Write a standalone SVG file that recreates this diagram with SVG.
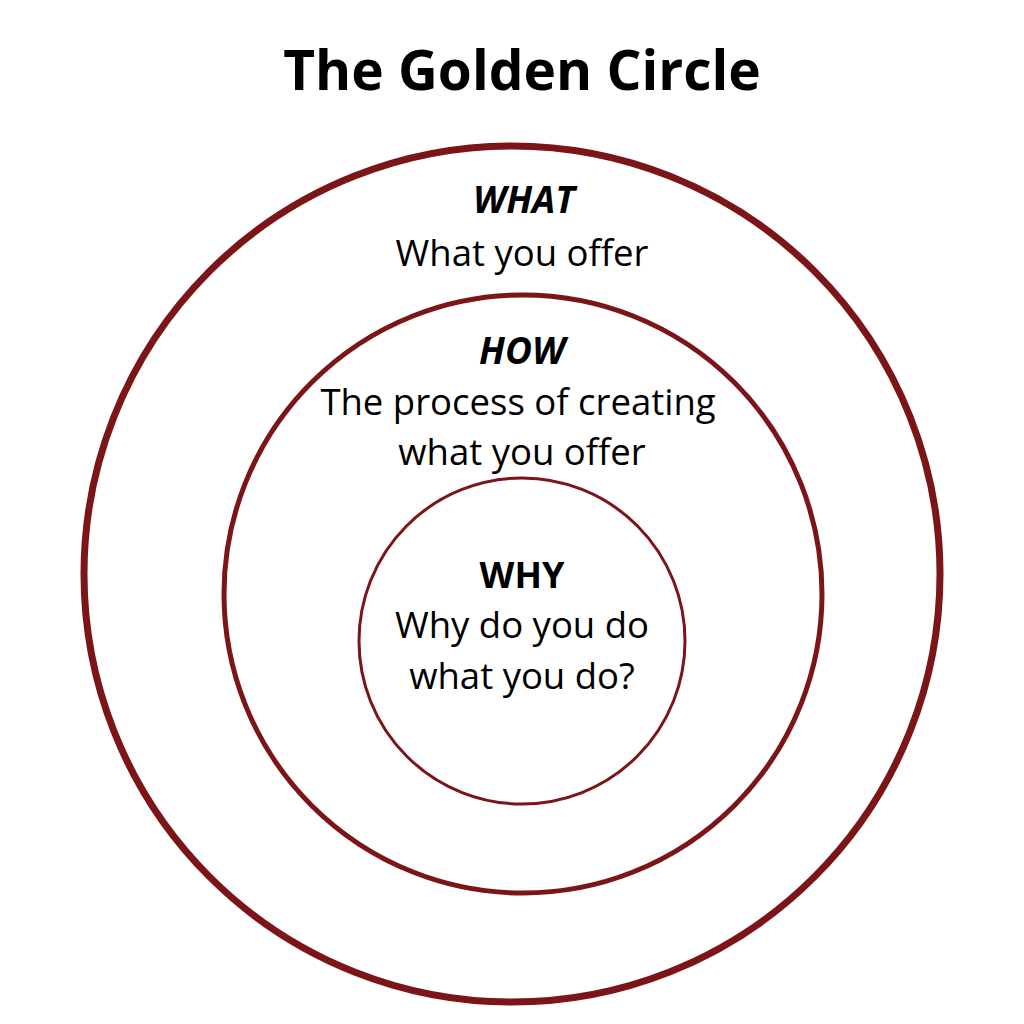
<svg xmlns="http://www.w3.org/2000/svg" width="1024" height="1024" viewBox="0 0 1024 1024">
<style>
.c{fill:none;stroke:#7b1518}
text{font-family:"Open Sans","Liberation Sans",sans-serif;text-anchor:middle;fill:#000}
.h{font-weight:bold;font-style:italic;font-size:37px}
.b{font-size:36.5px}
</style>
<rect width="1024" height="1024" fill="#fff"/>
<text x="522" y="90" style="font-weight:bold;font-size:55px">The Golden Circle</text>
<g id="what"><circle class="c" cx="512" cy="574" r="428" stroke-width="7"/>
<text class="h" x="524" y="213">WHAT</text><text class="b" x="522" y="266">What you offer</text></g>
<g id="how"><circle class="c" cx="523" cy="594" r="299" stroke-width="5"/>
<text class="h" x="522" y="364">HOW</text><text class="b" x="518" y="415">The process of creating</text><text class="b" x="522" y="465">what you offer</text></g>
<g id="why"><circle class="c" cx="522" cy="641" r="163" stroke-width="3"/>
<text class="h" style="font-style:normal;font-size:36px" x="522" y="588">WHY</text><text class="b" x="522" y="638">Why do you do</text><text class="b" x="522" y="689">what you do?</text></g>
<g id="connectors"/>
</svg>
